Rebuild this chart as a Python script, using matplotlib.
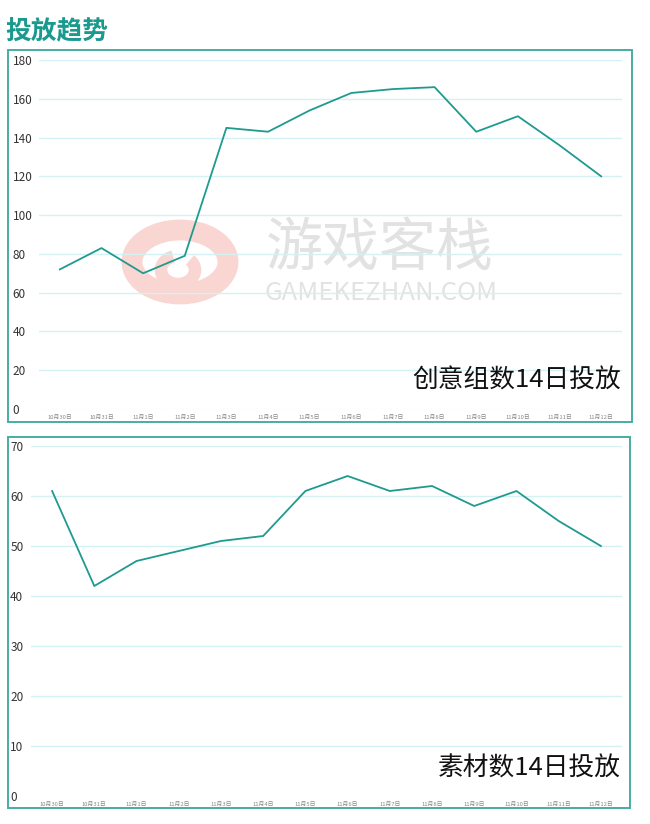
import matplotlib
matplotlib.use("Agg")
import matplotlib.pyplot as plt
from matplotlib.patches import Rectangle, Ellipse, Arc

plt.rcParams['font.family'] = ['Noto Sans CJK SC', 'DejaVu Sans']

dates = ['10月30日', '10月31日', '11月1日', '11月2日', '11月3日', '11月4日', '11月5日',
         '11月6日', '11月7日', '11月8日', '11月9日', '11月10日', '11月11日', '11月12日']
creative_groups = [72, 83, 70, 79, 145, 143, 154, 163, 165, 166, 143, 151, 136, 120]
materials = [61, 42, 47, 49, 51, 52, 61, 64, 61, 62, 58, 61, 55, 50]

TEAL = '#1f9a8f'
BORDER = '#45ada3'
GRID = '#d4f2f4'
PINK = '#f9d6d2'
WMGRAY = '#e2e2e2'

W, H = 650, 824
fig = plt.figure(figsize=(W / 100, H / 100), dpi=100)


def px_rect(x0, y0, x1, y1):
    # pixel box (top-left origin) -> figure fraction [left, bottom, width, height]
    return [x0 / W, 1 - y1 / H, (x1 - x0) / W, (y1 - y0) / H]


def panel(rect, values, ymax, label, label_y, ypad):
    ax = fig.add_axes(px_rect(*rect))
    x = range(len(values))
    ax.plot(x, values, color=TEAL, lw=1.3, zorder=3)
    ax.set_xlim(-0.5, len(values) - 0.5)
    ax.set_ylim(0, ymax)
    step = 10 if ymax == 70 else 20
    ticks = list(range(0, ymax + 1, step))
    ax.set_yticks(ticks)
    for t in ticks[1:]:
        ax.axhline(t, color=GRID, lw=1.0, zorder=1)
    ax.axhline(0, color='#dddddd', lw=0.8, ls=(0, (2, 1)), zorder=1)
    ax.set_xticks(list(x))
    ax.set_xticklabels(dates, fontsize=4.2, color='#888888')
    ax.tick_params(axis='x', length=0, pad=4)
    ax.tick_params(axis='y', length=0, pad=ypad, labelsize=8.5, labelcolor='#333333')
    for lab in ax.get_yticklabels():
        lab.set_ha('left')
    for s in ax.spines.values():
        s.set_visible(False)
    ax.patch.set_alpha(0)
    fig.text(621 / W, 1 - label_y / H, label, fontsize=18.5, color='#111111',
             ha='right', va='center')
    return ax


# watermark, behind the charts
wm_ax = fig.add_axes([0, 0, 1, 1], zorder=0)
wm_ax.set_xlim(0, W)
wm_ax.set_ylim(H, 0)
wm_ax.axis('off')
wm_ax.add_patch(Ellipse((180, 262), 96, 64, fill=False, ec=PINK, lw=15))
wm_ax.add_patch(Arc((178, 270), 34, 28, theta1=-40, theta2=250, ec=PINK, lw=9))
wm_ax.text(380, 249, '游戏客栈', fontsize=41, color=WMGRAY, ha='center', va='center')
wm_ax.text(381, 293, 'GAMEKEZHAN.COM', fontsize=18.5, color=WMGRAY, ha='center', va='center')

panel((39, 60, 622, 409), creative_groups, 180, '创意组数14日投放', 381, 19)
panel((31, 446, 622, 796), materials, 70, '素材数14日投放', 769, 15)

fig.patches.append(Rectangle((8 / W, 1 - 422 / H), 624 / W, 372 / H, transform=fig.transFigure,
                             fill=False, ec=BORDER, lw=1.4))
fig.patches.append(Rectangle((8 / W, 1 - 808 / H), 622 / W, 371 / H, transform=fig.transFigure,
                             fill=False, ec=BORDER, lw=1.4))

fig.text(5 / W, 1 - 31 / H, '投放趋势', fontsize=18.5, fontweight='bold', color='#1a9a8e',
         ha='left', va='center')

fig.savefig('out.png', dpi=100)
